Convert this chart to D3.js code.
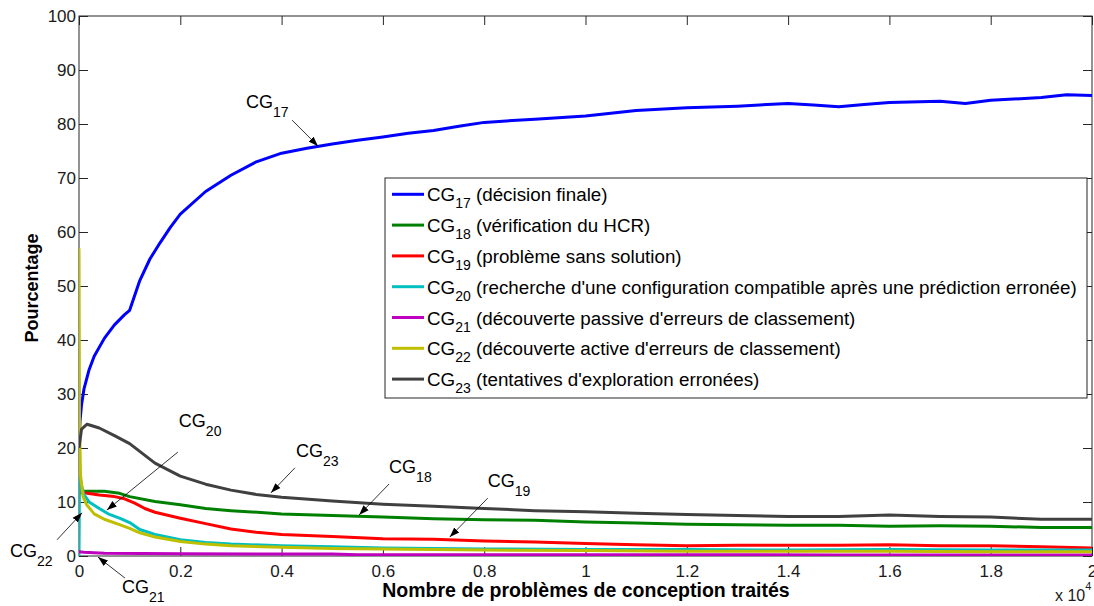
<!DOCTYPE html>
<html lang="fr">
<head>
<meta charset="utf-8">
<title>Pourcentage CG17-CG23</title>
<script src="https://d3js.org/d3.v7.min.js"></script>
<style>
  body { margin: 0; background: #fff; }
  svg { display: block; font-family: "Liberation Sans", Arial, sans-serif; }
</style>
</head>
<body>
<svg width="1094" height="606"></svg>
<script>
// data, x in units of 10^4 problems, y in percent
const xTicks = [0, 0.2, 0.4, 0.6, 0.8, 1, 1.2, 1.4, 1.6, 1.8, 2];
const yTicks = [0, 10, 20, 30, 40, 50, 60, 70, 80, 90, 100];

const seriesNames = ["17", "18", "19", "20", "21", "22", "23"];
const seriesLabels = [
  "(décision finale)",
  "(vérification du HCR)",
  "(problème sans solution)",
  "(recherche d'une configuration compatible après une prédiction erronée)",
  "(découverte passive d'erreurs de classement)",
  "(découverte active d'erreurs de classement)",
  "(tentatives d'exploration erronées)"
];
const seriesColors = ["#0000ff", "#008000", "#ff0000", "#00bfbf", "#bf00bf", "#bfbf00", "#404040"];

const cg17 = [[0,21],[0.002,25],[0.005,28],[0.01,31],[0.02,34.5],[0.03,37],[0.05,40.3],[0.07,42.8],[0.09,44.7],[0.1,45.5],
  [0.12,51],[0.14,55],[0.16,58],[0.18,60.8],[0.2,63.3],[0.25,67.5],[0.3,70.5],[0.35,73],[0.4,74.6],[0.45,75.5],
  [0.5,76.3],[0.55,77],[0.6,77.6],[0.65,78.3],[0.7,78.8],[0.75,79.6],[0.8,80.3],[0.9,80.9],[1.0,81.5],[1.1,82.5],
  [1.2,83],[1.3,83.3],[1.4,83.8],[1.45,83.5],[1.5,83.2],[1.55,83.6],[1.6,84],[1.7,84.2],[1.75,83.8],[1.8,84.4],
  [1.9,84.9],[1.95,85.4],[2.0,85.3]];
const cg18 = [[0,11.5],[0.01,12],[0.05,12],[0.08,11.6],[0.1,11],[0.15,10.1],[0.2,9.5],[0.25,8.8],[0.3,8.4],[0.4,7.8],
  [0.5,7.5],[0.6,7.2],[0.7,6.9],[0.8,6.7],[0.9,6.6],[1.0,6.3],[1.1,6.1],[1.2,5.9],[1.3,5.8],[1.4,5.7],[1.5,5.7],
  [1.6,5.5],[1.7,5.6],[1.8,5.5],[1.9,5.3],[2.0,5.3]];
const cg19 = [[0,12],[0.01,11.7],[0.04,11.3],[0.07,11],[0.09,10.6],[0.11,9.8],[0.13,8.8],[0.15,8.1],[0.2,7],[0.25,6],
  [0.3,5],[0.35,4.4],[0.4,4],[0.5,3.6],[0.6,3.2],[0.7,3.1],[0.8,2.8],[0.9,2.6],[1.0,2.3],[1.1,2.1],[1.2,1.9],
  [1.3,2.0],[1.4,2.0],[1.5,2.0],[1.6,2.1],[1.7,1.9],[1.8,1.9],[1.9,1.7],[2.0,1.5]];
const cg20 = [[0,0],[0.001,15],[0.005,13],[0.01,11.3],[0.02,10],[0.04,8.8],[0.06,7.7],[0.08,7],[0.1,6.2],[0.12,4.9],
  [0.15,4],[0.2,3],[0.25,2.5],[0.3,2.2],[0.4,1.9],[0.5,1.7],[0.6,1.5],[0.8,1.3],[1.0,1.2],[1.2,1.2],[1.4,1.1],
  [1.6,1.2],[1.8,1.1],[2.0,1.1]];
const cg21 = [[0,0.8],[0.01,0.7],[0.05,0.5],[0.2,0.4],[0.5,0.35],[0.55,0.25],[1.0,0.25],[1.5,0.2],[2.0,0.2]];
const cg22 = [[0,57],[0.001,25],[0.003,15],[0.008,11],[0.015,9.5],[0.03,7.8],[0.05,6.8],[0.08,5.8],[0.1,5.1],[0.12,4.3],
  [0.15,3.5],[0.2,2.7],[0.25,2.2],[0.3,1.9],[0.4,1.6],[0.5,1.4],[0.6,1.3],[0.8,1.1],[1.0,1.0],[1.2,0.9],[1.4,0.9],
  [1.6,0.9],[1.8,0.8],[2.0,0.8]];
const cg23 = [[0,20],[0.005,23.5],[0.016,24.4],[0.04,23.7],[0.07,22.3],[0.1,20.8],[0.15,17.2],[0.2,14.8],[0.25,13.3],
  [0.3,12.2],[0.35,11.4],[0.4,10.9],[0.5,10.2],[0.6,9.6],[0.7,9.2],[0.8,8.8],[0.9,8.4],[1.0,8.2],[1.1,7.9],[1.2,7.7],
  [1.3,7.5],[1.4,7.3],[1.5,7.3],[1.6,7.6],[1.7,7.3],[1.8,7.2],[1.9,6.8],[2.0,6.8]];
const seriesData = [cg17, cg18, cg19, cg20, cg21, cg22, cg23];

// arrow tips in data units, text/tail offsets in px
const annotations = [
  {sub: "17", tip: [0.472, 75.9], tail: [-26, -26], text: [-72, -38]},
  {sub: "20", tip: [0.055, 8.5], tail: [71, -58], text: [72, -83]},
  {sub: "23", tip: [0.379, 11.7], tail: [24, -25], text: [25, -36]},
  {sub: "18", tip: [0.553, 7.6], tail: [30, -31], text: [30, -42]},
  {sub: "19", tip: [0.732, 3.5], tail: [38, -39], text: [38, -50]},
  {sub: "22", tip: [0.006, 8.0], tail: [-25, 27], text: [-72, 44]},
  {sub: "21", tip: [0.0375, -0.2], tail: [27, 21], text: [24, 36]}
];

const svg = d3.select("svg");
const mLeft = 79, mRight = 1092, mTop = 16, mBottom = 556;
const x = d3.scaleLinear().domain([0, 2]).range([mLeft, mRight]);
const y = d3.scaleLinear().domain([0, 100]).range([mBottom, mTop]);
const axisColor = "#262626";

const defs = svg.append("defs");
defs.append("clipPath").attr("id", "plot")
  .append("rect").attr("x", mLeft).attr("y", mTop - 2).attr("width", mRight - mLeft).attr("height", mBottom - mTop + 2);
defs.append("marker")
  .attr("id", "arrow").attr("viewBox", "0 0 10 10").attr("refX", 10).attr("refY", 5)
  .attr("markerWidth", 10).attr("markerHeight", 10).attr("markerUnits", "userSpaceOnUse")
  .attr("orient", "auto")
  .append("path").attr("d", "M0,1.5 L10,5 L0,8.5 Z").attr("fill", "#000");

// axes
const fmt = d => String(d);
const gx = svg.append("g").attr("transform", `translate(0,${mBottom})`)
  .call(d3.axisBottom(x).tickValues(xTicks).tickFormat(fmt).tickSize(-9).tickPadding(9));
const gy = svg.append("g").attr("transform", `translate(${mLeft},0)`)
  .call(d3.axisLeft(y).tickValues(yTicks).tickFormat(fmt).tickSize(-9).tickPadding(3));
const gt = svg.append("g").attr("transform", `translate(0,${mTop})`)
  .call(d3.axisTop(x).tickValues(xTicks).tickFormat("").tickSize(-9));
const gr = svg.append("g").attr("transform", `translate(${mRight},0)`)
  .call(d3.axisRight(y).tickValues(yTicks).tickFormat("").tickSize(-9));
[gx, gy, gt, gr].forEach(g => {
  g.select(".domain").remove();
  g.selectAll("line").attr("stroke", axisColor);
  g.selectAll("text").attr("fill", "#1a1a1a").attr("font-size", 17).attr("font-family", "Liberation Sans, Arial, sans-serif");
});
svg.append("rect").attr("x", mLeft).attr("y", mTop).attr("width", mRight - mLeft).attr("height", mBottom - mTop)
  .attr("fill", "none").attr("stroke", axisColor).attr("stroke-width", 1);

// curves
const line = d3.line().x(d => x(d[0])).y(d => y(d[1]));
svg.append("g").attr("clip-path", "url(#plot)")
  .selectAll("path").data(seriesData).join("path")
  .attr("d", line)
  .attr("fill", "none")
  .attr("stroke", (d, i) => seriesColors[i])
  .attr("stroke-width", 3)
  .attr("stroke-linejoin", "round");

// legend
const lg = svg.append("g");
lg.append("rect").attr("x", 385).attr("y", 178).attr("width", 702).attr("height", 220)
  .attr("fill", "#fff").attr("stroke", axisColor).attr("stroke-width", 1);
const rows = lg.selectAll("g.row").data(seriesNames).join("g").attr("class", "row")
  .attr("transform", (d, i) => `translate(0,${194.3 + i * 30.8})`);
rows.append("line").attr("x1", 392).attr("x2", 424).attr("y1", 0).attr("y2", 0)
  .attr("stroke", (d, i) => seriesColors[i]).attr("stroke-width", 3);
const lt = rows.append("text").attr("x", 427).attr("y", 7).attr("font-size", 18.8).attr("fill", "#000");
lt.append("tspan").text("CG");
lt.append("tspan").attr("font-size", 14).attr("dy", 7).text(d => d);
lt.append("tspan").attr("dy", -7).text((d, i) => " " + seriesLabels[i]);

// annotations
const an = svg.append("g").selectAll("g").data(annotations).join("g")
  .attr("transform", d => `translate(${x(d.tip[0])},${y(d.tip[1])})`);
an.append("line")
  .attr("x1", d => d.tail[0]).attr("y1", d => d.tail[1]).attr("x2", 0).attr("y2", 0)
  .attr("stroke", "#000").attr("stroke-width", 0.8).attr("marker-end", "url(#arrow)");
const at = an.append("text").attr("x", d => d.text[0]).attr("y", d => d.text[1]).attr("font-size", 18).attr("fill", "#000");
at.append("tspan").text("CG");
at.append("tspan").attr("font-size", 14).attr("dy", 9).text(d => d.sub);

// axis titles
svg.append("text").attr("x", 586).attr("y", 597).attr("text-anchor", "middle")
  .attr("font-size", 19.5).attr("font-weight", "bold").text("Nombre de problèmes de conception traités");
svg.append("text").attr("transform", "translate(38,288) rotate(-90)").attr("text-anchor", "middle")
  .attr("font-size", 18).attr("font-weight", "bold").text("Pourcentage");
const ex = svg.append("text").attr("x", 1055).attr("y", 601).attr("font-size", 16).attr("fill", "#1a1a1a");
ex.append("tspan").text("x 10");
ex.append("tspan").attr("font-size", 11).attr("dy", -11).text("4");
</script>
</body>
</html>
